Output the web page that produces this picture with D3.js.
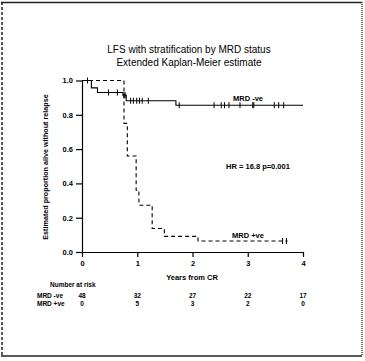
<!DOCTYPE html>
<html>
<head>
<meta charset="utf-8">
<script src="https://cdn.jsdelivr.net/npm/d3@7"></script>
<style>
  body { margin: 0; background: #fff; }
  svg text { font-family: "Liberation Sans", Arial, sans-serif; fill: #000; }
</style>
</head>
<body>
<svg id="chart" width="365" height="361"></svg>
<script>
// Step curves: [time (years), survival after the step]
const negSteps = [[0, 1], [0.17, 0.957], [0.28, 0.93], [0.74, 0.915], [0.8, 0.882], [1.7, 0.856], [4.0, 0.856]];
const negCensor = [0.1, 0.48, 0.64, 0.76, 0.78, 0.88, 0.93, 0.99, 1.04, 1.09, 1.2, 1.76,
  2.39, 2.52, 2.58, 2.66, 2.86, 3.09, 3.11, 3.48, 3.56, 3.65];
const posSteps = [[0, 1], [0.76, 0.75], [0.82, 0.56], [0.98, 0.36], [1.03, 0.273], [1.27, 0.137], [1.49, 0.091], [2.1, 0.064], [3.72, 0.064]];
const posCensor = [3.63, 3.7];

const xTicks = [0, 1, 2, 3, 4];
const yTicks = [0, 0.2, 0.4, 0.6, 0.8, 1.0];
const riskGroups = ['MRD -ve', 'MRD +ve'];
const riskNeg = [48, 32, 27, 22, 17];
const riskPos = [0, 5, 3, 2, 0];

const svg = d3.select('#chart');
const x = d3.scaleLinear().domain([0, 4]).range([82, 303]);
const y = d3.scaleLinear().domain([0, 1]).range([252, 80.5]);

// frame: solid top/bottom, dashed sides
svg.append('line').attr('x1', 1).attr('x2', 362).attr('y1', 2.5).attr('y2', 2.5).attr('stroke', '#222').attr('stroke-width', 1.5);
svg.append('line').attr('x1', 1).attr('x2', 362).attr('y1', 356).attr('y2', 356).attr('stroke', '#222').attr('stroke-width', 1.5);
svg.append('line').attr('x1', 2).attr('x2', 2).attr('y1', 2).attr('y2', 356).attr('stroke', '#222').attr('stroke-width', 1.5).attr('stroke-dasharray', '3,2');
svg.append('line').attr('x1', 362).attr('x2', 362).attr('y1', 2).attr('y2', 356).attr('stroke', '#444').attr('stroke-width', 1.5).attr('stroke-dasharray', '1,1');

// titles
svg.append('text').attr('x', 189).attr('y', 53).attr('text-anchor', 'middle').attr('font-size', 10).text('LFS with stratification by MRD status');
svg.append('text').attr('x', 189).attr('y', 66).attr('text-anchor', 'middle').attr('font-size', 10).text('Extended Kaplan-Meier estimate');

// axes
const yAxis = svg.append('g').attr('transform', `translate(${x(0)},0)`)
  .call(d3.axisLeft(y).tickValues(yTicks).tickFormat(d3.format('.1f')).tickSize(6).tickSizeOuter(0));
const xAxis = svg.append('g').attr('transform', `translate(0,${y(0)})`)
  .call(d3.axisBottom(x).tickValues(xTicks).tickFormat(d3.format('d')).tickSize(5).tickSizeOuter(0));
[xAxis, yAxis].forEach((g) => {
  g.select('.domain').attr('stroke', '#000').attr('stroke-width', 1.2);
  g.selectAll('.tick line').attr('stroke', '#000').attr('stroke-width', 1.2);
  g.selectAll('text').attr('font-size', 7.5).attr('font-weight', 'bold').attr('font-family', '"Liberation Sans", Arial, sans-serif');
});
xAxis.selectAll('text').attr('dy', '0.71em').attr('y', 9);
yAxis.selectAll('text').attr('x', -9);

svg.append('text').attr('x', 192).attr('y', 280).attr('text-anchor', 'middle').attr('font-size', 7.5).attr('font-weight', 'bold').text('Years from CR');
svg.append('text').attr('transform', 'translate(48,167) rotate(-90)').attr('text-anchor', 'middle')
  .attr('font-size', 7.2).attr('font-weight', 'bold').text('Estimated proportion alive without relapse');

// KM curves
const stepLine = d3.line().x((d) => x(d[0])).y((d) => y(d[1])).curve(d3.curveStepAfter);
svg.append('path').datum(negSteps).attr('d', stepLine).attr('fill', 'none').attr('stroke', '#000').attr('stroke-width', 1.1);
svg.append('path').datum(posSteps).attr('d', stepLine).attr('fill', 'none').attr('stroke', '#000').attr('stroke-width', 1.1).attr('stroke-dasharray', '4,3');

function survAt(steps, t) {
  let s = steps[0][1];
  steps.forEach((d) => { if (d[0] <= t) s = d[1]; });
  return s;
}
svg.append('g').selectAll('line').data(negCensor).join('line')
  .attr('x1', (d) => x(d)).attr('x2', (d) => x(d))
  .attr('y1', (d) => y(survAt(negSteps, d)) - 3).attr('y2', (d) => y(survAt(negSteps, d)) + 3)
  .attr('stroke', '#000').attr('stroke-width', 1);
svg.append('g').selectAll('line').data(posCensor).join('line')
  .attr('x1', (d) => x(d)).attr('x2', (d) => x(d))
  .attr('y1', (d) => y(survAt(posSteps, d)) - 3).attr('y2', (d) => y(survAt(posSteps, d)) + 3)
  .attr('stroke', '#000').attr('stroke-width', 1);

// annotations
svg.append('text').attr('x', 248).attr('y', 101).attr('text-anchor', 'middle').attr('font-size', 7.5).attr('font-weight', 'bold').text('MRD -ve');
svg.append('text').attr('x', 248).attr('y', 238).attr('text-anchor', 'middle').attr('font-size', 7.5).attr('font-weight', 'bold').text('MRD +ve');
svg.append('text').attr('x', 258).attr('y', 169).attr('text-anchor', 'middle').attr('font-size', 7.5).attr('font-weight', 'bold').text('HR = 16.8 p=0.001');

// number at risk table
svg.append('text').attr('x', 50).attr('y', 287).attr('font-size', 6.5).attr('font-weight', 'bold').text('Number at risk');
[riskNeg, riskPos].forEach((row, i) => {
  const ty = 298 + i * 7.5;
  svg.append('text').attr('x', 37).attr('y', ty).attr('font-size', 6.5).attr('font-weight', 'bold').text(riskGroups[i]);
  svg.append('g').selectAll('text').data(row).join('text')
    .attr('x', (d, j) => x(xTicks[j]))
    .attr('y', ty).attr('text-anchor', 'middle').attr('font-size', 6.5).attr('font-weight', 'bold')
    .attr('fill', '#000').text((d) => d);
});
</script>
</body>
</html>
